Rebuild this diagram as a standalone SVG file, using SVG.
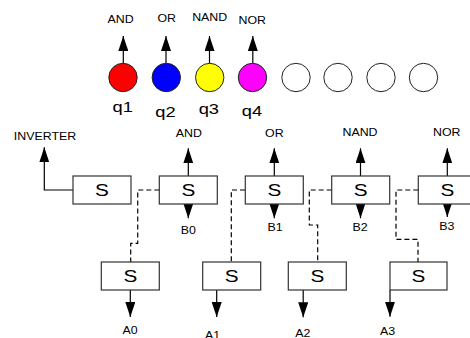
<svg xmlns="http://www.w3.org/2000/svg" width="470" height="338" viewBox="0 0 470 338">
<style>
.lbl{font-family:"Liberation Sans",Arial,sans-serif;font-size:10px;text-anchor:middle;fill:#000}
.q{font-family:"Liberation Sans",Arial,sans-serif;font-size:15px;text-anchor:middle;fill:#000}
.s{font-family:"Liberation Sans",Arial,sans-serif;font-size:17px;text-anchor:middle;fill:#000}
.box{fill:#fff;stroke:#333;stroke-width:1.2}
.dot{stroke:#222;stroke-width:1}
.wire{fill:none;stroke:#000;stroke-width:1.2}
.dash{fill:none;stroke:#000;stroke-width:1.2;stroke-dasharray:5,3}
</style>
<defs>
<marker id="arr" viewBox="0 0 15 10" refX="15" refY="5" markerWidth="15" markerHeight="10" markerUnits="userSpaceOnUse" orient="auto">
<path d="M0,0 L15,5 L0,10 z" fill="#000"/>
</marker>
</defs>
<rect width="470" height="338" fill="#fff"/>

<g id="connectors">
<path class="wire" marker-end="url(#arr)" d="M123.3,63.5 V36"/>
<path class="wire" marker-end="url(#arr)" d="M166,63.5 V36"/>
<path class="wire" marker-end="url(#arr)" d="M209.5,63.5 V36"/>
<path class="wire" marker-end="url(#arr)" d="M252.8,63.5 V36"/>
<path class="wire" marker-end="url(#arr)" d="M73,190 H44.3 V147.3"/>
<path class="wire" marker-end="url(#arr)" d="M188.3,176 V148.3"/>
<path class="wire" marker-end="url(#arr)" d="M188.3,204 V218.3"/>
<path class="wire" marker-end="url(#arr)" d="M274.3,176 V148.3"/>
<path class="wire" marker-end="url(#arr)" d="M274.3,204 V218.3"/>
<path class="wire" marker-end="url(#arr)" d="M360.5,176 V148.3"/>
<path class="wire" marker-end="url(#arr)" d="M360.5,204 V218.3"/>
<path class="wire" marker-end="url(#arr)" d="M447.3,176 V148.3"/>
<path class="wire" marker-end="url(#arr)" d="M447.3,204 V217"/>
<path class="dash" d="M159.3,190 H137.7 V243.3 H130.7 V262"/>
<path class="dash" d="M245,190 H231.3 V262"/>
<path class="dash" d="M331.7,190 H309.3 V225 H317.7 V262"/>
<path class="dash" d="M418.3,190 H396 V239.3 H418 V262"/>
<path class="wire" marker-end="url(#arr)" d="M130.3,290 V317"/>
<path class="wire" marker-end="url(#arr)" d="M216.7,290 V317"/>
<path class="wire" marker-end="url(#arr)" d="M303.2,290 V317.3"/>
<path class="wire" marker-end="url(#arr)" d="M390,290 V316.7"/>
<text class="lbl" transform="translate(120.5,22.7) scale(1.24,1)">AND</text>
<text class="lbl" transform="translate(166.7,21.7) scale(1.24,1)">OR</text>
<text class="lbl" transform="translate(209.7,21) scale(1.24,1)">NAND</text>
<text class="lbl" transform="translate(252.2,24) scale(1.24,1)">NOR</text>
<text class="lbl" transform="translate(45,140) scale(1.24,1)">INVERTER</text>
<text class="lbl" transform="translate(188.8,137.3) scale(1.24,1)">AND</text>
<text class="lbl" transform="translate(274.3,137.3) scale(1.24,1)">OR</text>
<text class="lbl" transform="translate(360,135.7) scale(1.24,1)">NAND</text>
<text class="lbl" transform="translate(446.7,135.7) scale(1.24,1)">NOR</text>
<text class="lbl" transform="translate(188.3,234) scale(1.24,1)">B0</text>
<text class="lbl" transform="translate(275,231) scale(1.24,1)">B1</text>
<text class="lbl" transform="translate(360,231) scale(1.24,1)">B2</text>
<text class="lbl" transform="translate(446.7,230) scale(1.24,1)">B3</text>
<text class="lbl" transform="translate(130,334) scale(1.24,1)">A0</text>
<text class="lbl" transform="translate(212.5,339) scale(1.24,1)">A1</text>
<text class="lbl" transform="translate(302.8,337.3) scale(1.24,1)">A2</text>
<text class="lbl" transform="translate(387.5,334.5) scale(1.24,1)">A3</text>
</g>

<g id="q1"><circle class="dot" cx="123" cy="77.5" r="14.2" fill="#ff0000"/><text class="q" transform="translate(122.7,111.7) scale(1.22,1)">q1</text></g>
<g id="q2"><circle class="dot" cx="166.3" cy="77.5" r="14.2" fill="#0000ff"/><text class="q" transform="translate(165.5,116.7) scale(1.22,1)">q2</text></g>
<g id="q3"><circle class="dot" cx="209.7" cy="77.5" r="14.2" fill="#ffff00"/><text class="q" transform="translate(208.8,114.3) scale(1.22,1)">q3</text></g>
<g id="q4"><circle class="dot" cx="252.5" cy="77.5" r="14.2" fill="#ff00ff"/><text class="q" transform="translate(252,115.7) scale(1.22,1)">q4</text></g>
<g id="c5"><circle class="dot" cx="296" cy="77.5" r="14.2" fill="#fff"/></g>
<g id="c6"><circle class="dot" cx="338" cy="77.5" r="14.2" fill="#fff"/></g>
<g id="c7"><circle class="dot" cx="381" cy="77.5" r="14.2" fill="#fff"/></g>
<g id="c8"><circle class="dot" cx="423.5" cy="77.5" r="14.2" fill="#fff"/></g>

<g id="s_inv"><rect class="box" x="73" y="176" width="58" height="28"/><text class="s" transform="translate(102,196) scale(1.22,1)">S</text></g>
<g id="s_b0"><rect class="box" x="159.3" y="176" width="58" height="28"/><text class="s" transform="translate(188.3,196) scale(1.22,1)">S</text></g>
<g id="s_b1"><rect class="box" x="245.3" y="176" width="58" height="28"/><text class="s" transform="translate(274.3,196) scale(1.22,1)">S</text></g>
<g id="s_b2"><rect class="box" x="331.7" y="176" width="58" height="28"/><text class="s" transform="translate(360.7,196) scale(1.22,1)">S</text></g>
<g id="s_b3"><rect class="box" x="418.3" y="176" width="58" height="28"/><text class="s" transform="translate(447.3,196) scale(1.22,1)">S</text></g>
<g id="s_a0"><rect class="box" x="101.3" y="262" width="58" height="28"/><text class="s" transform="translate(130.3,282) scale(1.22,1)">S</text></g>
<g id="s_a1"><rect class="box" x="202.7" y="262" width="58" height="28"/><text class="s" transform="translate(231.7,282) scale(1.22,1)">S</text></g>
<g id="s_a2"><rect class="box" x="288.3" y="262" width="58" height="28"/><text class="s" transform="translate(317.3,282) scale(1.22,1)">S</text></g>
<g id="s_a3"><rect class="box" x="390" y="262" width="57" height="28"/><text class="s" transform="translate(418.5,282) scale(1.22,1)">S</text></g>
</svg>
